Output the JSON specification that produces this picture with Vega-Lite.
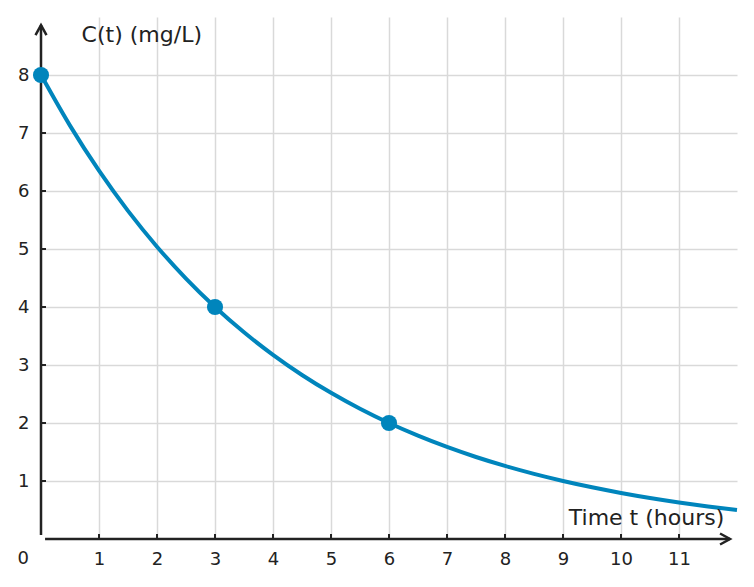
{
  "$schema": "https://vega.github.io/schema/vega-lite/v6.json",
  "width": 696,
  "height": 522,
  "autosize": {"type": "none"},
  "padding": {"left": 41, "top": 17, "right": 17, "bottom": 48},
  "background": "white",
  "config": {
    "view": {"stroke": null},
    "font": "DejaVu Sans"
  },
  "datasets": {
    "curve": [
      {"t": 0, "c": 8}, {"t": 0.5, "c": 7.127}, {"t": 1, "c": 6.35}, {"t": 1.5, "c": 5.657},
      {"t": 2, "c": 5.04}, {"t": 2.5, "c": 4.49}, {"t": 3, "c": 4.0}, {"t": 3.5, "c": 3.564},
      {"t": 4, "c": 3.175}, {"t": 4.5, "c": 2.828}, {"t": 5, "c": 2.52}, {"t": 5.5, "c": 2.245},
      {"t": 6, "c": 2.0}, {"t": 6.5, "c": 1.782}, {"t": 7, "c": 1.587}, {"t": 7.5, "c": 1.414},
      {"t": 8, "c": 1.26}, {"t": 8.5, "c": 1.122}, {"t": 9, "c": 1.0}, {"t": 9.5, "c": 0.891},
      {"t": 10, "c": 0.794}, {"t": 10.5, "c": 0.707}, {"t": 11, "c": 0.63}, {"t": 11.5, "c": 0.561},
      {"t": 12, "c": 0.5}
    ],
    "pts": [
      {"t": 0, "c": 8}, {"t": 3, "c": 4}, {"t": 6, "c": 2}
    ],
    "xticks": [
      {"v": 1}, {"v": 2}, {"v": 3}, {"v": 4}, {"v": 5}, {"v": 6}, {"v": 7}, {"v": 8}, {"v": 9}, {"v": 10}, {"v": 11}
    ],
    "yticks": [
      {"v": 1}, {"v": 2}, {"v": 3}, {"v": 4}, {"v": 5}, {"v": 6}, {"v": 7}, {"v": 8}
    ],
    "one": [{}]
  },
  "layer": [
    {
      "data": {"name": "curve"},
      "mark": {"type": "line", "color": "#0085bc", "strokeWidth": 4, "interpolate": "monotone", "clip": false},
      "encoding": {
        "x": {
          "field": "t", "type": "quantitative",
          "scale": {"domain": [0, 12], "nice": false, "zero": false},
          "axis": {
            "values": [1, 2, 3, 4, 5, 6, 7, 8, 9, 10, 11],
            "format": "d",
            "title": null, "domain": false,
            "grid": true, "gridColor": "#d9d9d9", "gridWidth": 1.5,
            "ticks": false,
            "labelFontSize": 18, "labelColor": "#222222", "labelPadding": 11,
            "labelFont": "DejaVu Sans"
          }
        },
        "y": {
          "field": "c", "type": "quantitative",
          "scale": {"domain": [0, 9], "nice": false, "zero": false},
          "axis": {
            "values": [1, 2, 3, 4, 5, 6, 7, 8],
            "format": "d",
            "title": null, "domain": false,
            "grid": true, "gridColor": "#d9d9d9", "gridWidth": 1.5,
            "ticks": false,
            "labelFontSize": 18, "labelColor": "#222222", "labelPadding": 12,
            "labelFont": "DejaVu Sans"
          }
        }
      }
    },
    {
      "data": {"name": "xticks"},
      "mark": {"type": "rule", "color": "#222222", "strokeWidth": 2},
      "encoding": {
        "x": {"field": "v", "type": "quantitative"},
        "y": {"datum": 0, "type": "quantitative"},
        "y2": {"datum": 0.086}
      }
    },
    {
      "data": {"name": "yticks"},
      "mark": {"type": "rule", "color": "#222222", "strokeWidth": 2},
      "encoding": {
        "y": {"field": "v", "type": "quantitative"},
        "x": {"datum": 0, "type": "quantitative"},
        "x2": {"datum": 0.086}
      }
    },
    {
      "data": {"name": "one"},
      "mark": {"type": "rule", "color": "#222222", "strokeWidth": 2.5},
      "encoding": {
        "x": {"datum": 0, "type": "quantitative"},
        "y": {"datum": 0.07, "type": "quantitative"},
        "y2": {"datum": 8.86}
      }
    },
    {
      "data": {"name": "one"},
      "mark": {"type": "rule", "color": "#222222", "strokeWidth": 2.5},
      "encoding": {
        "y": {"datum": 0, "type": "quantitative"},
        "x": {"datum": 0.07, "type": "quantitative"},
        "x2": {"datum": 11.88}
      }
    },
    {
      "data": {"name": "one"},
      "mark": {"type": "point", "shape": "M-0.55,1L0,0L0.55,1", "filled": false, "stroke": "#222222", "strokeWidth": 2.5, "size": 400, "opacity": 1},
      "encoding": {
        "x": {"datum": 0, "type": "quantitative"},
        "y": {"datum": 8.86, "type": "quantitative"}
      }
    },
    {
      "data": {"name": "one"},
      "mark": {"type": "point", "shape": "M-1,-0.55L0,0L-1,0.55", "filled": false, "stroke": "#222222", "strokeWidth": 2.5, "size": 400, "opacity": 1},
      "encoding": {
        "x": {"datum": 11.88, "type": "quantitative"},
        "y": {"datum": 0, "type": "quantitative"}
      }
    },
    {
      "data": {"name": "pts"},
      "mark": {"type": "circle", "color": "#0085bc", "size": 260, "opacity": 1},
      "encoding": {
        "x": {"field": "t", "type": "quantitative"},
        "y": {"field": "c", "type": "quantitative"}
      }
    },
    {
      "data": {"name": "one"},
      "mark": {"type": "text", "text": "C(t) (mg/L)", "align": "left", "baseline": "alphabetic", "fontSize": 22, "color": "#222222", "font": "DejaVu Sans"},
      "encoding": {
        "x": {"datum": 0.7, "type": "quantitative"},
        "y": {"datum": 8.57, "type": "quantitative"}
      }
    },
    {
      "data": {"name": "one"},
      "mark": {"type": "text", "text": "Time t (hours)", "align": "right", "baseline": "alphabetic", "fontSize": 22, "color": "#222222", "font": "DejaVu Sans"},
      "encoding": {
        "x": {"datum": 11.78, "type": "quantitative"},
        "y": {"datum": 0.24, "type": "quantitative"}
      }
    },
    {
      "data": {"name": "one"},
      "mark": {"type": "text", "text": "0", "align": "right", "baseline": "alphabetic", "fontSize": 18, "color": "#222222", "font": "DejaVu Sans", "dx": -12, "dy": 25},
      "encoding": {
        "x": {"datum": 0, "type": "quantitative"},
        "y": {"datum": 0, "type": "quantitative"}
      }
    }
  ]
}
